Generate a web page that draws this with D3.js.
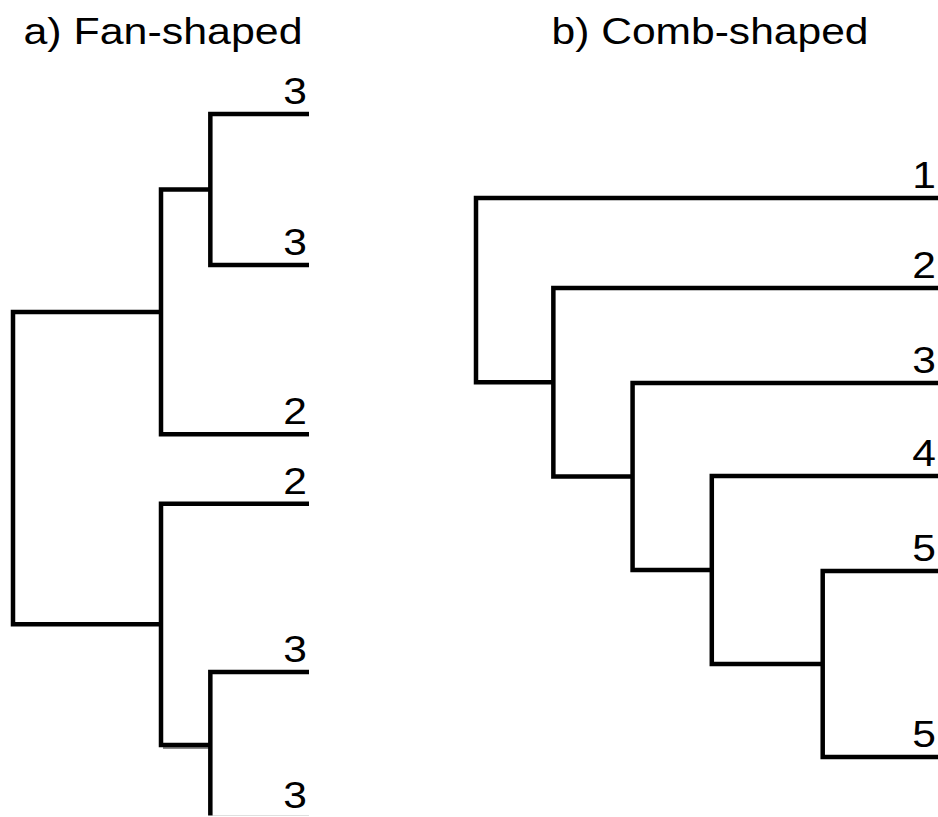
<!DOCTYPE html>
<html>
<head>
<meta charset="utf-8">
<script src="https://cdn.jsdelivr.net/npm/d3@7"></script>
<style>
  html, body { margin: 0; padding: 0; background: #fff; overflow: hidden; }
  svg { display: block; }
  text { font-family: "Liberation Sans", Arial, Helvetica, sans-serif; fill: #000; }
</style>
</head>
<body>
<svg id="chart" width="938" height="817"></svg>
<script>
// ---------- DATA ----------
// Panel titles
const panelTitles = ["a) Fan-shaped", "b) Comb-shaped"];

// Fan-shaped tree: leaf labels, leaf ordinates (vertical order units), merges [childA, childB, height]
const fanLabels = ["3", "3", "2", "2", "3", "3"];
const fanLeafPos = [0, 1.50, 3.18, 3.87, 5.54, 6.99];
const fanMerges = [
  [0, 1, 1.0],   // node 6
  [4, 5, 1.0],   // node 7
  [6, 2, 1.5],   // node 8
  [3, 7, 1.5],   // node 9
  [8, 9, 3.0]    // node 10 (root)
];

// Comb-shaped tree
const combLabels = ["1", "2", "3", "4", "5", "5"];
const combLeafPos = [0, 0.90, 1.85, 2.78, 3.73, 5.59];
const combMerges = [
  [4, 5, 1.28],  // node 6
  [3, 6, 2.47],  // node 7
  [2, 7, 3.32],  // node 8
  [1, 8, 4.17],  // node 9
  [0, 9, 5.0]    // node 10 (root)
];

// ---------- DRAW ----------
const svg = d3.select("#chart");

// the reference figure is cropped at its lower edge
svg.append("defs").append("clipPath").attr("id", "crop")
  .append("rect").attr("x", 0).attr("y", 0).attr("width", 938).attr("height", 815.5);

function drawDendrogram(cfg) {
  const { labels, leafPos, merges, xRange, yRange, yDomain, labelX, title, titleX, titleLen, shadowNodes } = cfg;
  const maxH = d3.max(merges, d => d[2]);
  const x = d3.scaleLinear().domain([maxH, 0]).range(xRange);
  const y = d3.scaleLinear().domain(yDomain).range(yRange);

  // build nodes
  const nodes = labels.map((lab, i) => ({ id: i, label: lab, h: 0, pos: leafPos[i], leaf: true }));
  merges.forEach(([a, b, h]) => {
    nodes.push({ id: nodes.length, h, pos: (nodes[a].pos + nodes[b].pos) / 2, children: [nodes[a], nodes[b]], leaf: false });
  });

  const g = svg.append("g").attr("clip-path", "url(#crop)");
  const internal = nodes.filter(n => !n.leaf);

  // faint grey shadow under selected lower connectors (as in the reference scan)
  g.selectAll("path.shadow")
    .data(internal.filter(n => (shadowNodes || []).includes(n.id)))
    .join("path")
    .attr("class", "shadow")
    .attr("fill", "none")
    .attr("stroke", "#8a8a8a")
    .attr("stroke-width", 2)
    .attr("d", n => {
      const c2 = n.children[1];
      const p = d3.path();
      p.moveTo(x(n.h) + 2, y(c2.pos) + 3);
      p.lineTo(x(c2.h), y(c2.pos) + 3);
      return p.toString();
    });

  g.selectAll("path.link")
    .data(internal)
    .join("path")
    .attr("class", "link")
    .attr("fill", "none")
    .attr("stroke", "#000")
    .attr("stroke-width", 4.5)
    .attr("stroke-linejoin", "miter")
    .attr("d", n => {
      const [c1, c2] = n.children;
      const p = d3.path();
      p.moveTo(x(c1.h), y(c1.pos));
      p.lineTo(x(n.h), y(c1.pos));
      p.lineTo(x(n.h), y(c2.pos));
      p.lineTo(x(c2.h), y(c2.pos));
      return p.toString();
    });

  svg.append("g").selectAll("text.leaf")
    .data(nodes.filter(n => n.leaf))
    .join("text")
    .attr("class", "leaf")
    .attr("transform", n => `translate(${labelX},${y(n.pos) - 10}) scale(1.15,1)`)
    .attr("text-anchor", "end")
    .attr("font-size", 37)
    .text(n => n.label);

  svg.append("text")
    .attr("x", titleX)
    .attr("y", 44)
    .attr("text-anchor", "middle")
    .attr("font-size", 37)
    .attr("textLength", titleLen)
    .attr("lengthAdjust", "spacingAndGlyphs")
    .text(title);
}

drawDendrogram({
  labels: fanLabels, leafPos: fanLeafPos, merges: fanMerges,
  xRange: [13, 309], yDomain: [0, 7], yRange: [114, 819],
  labelX: 307, title: panelTitles[0], titleX: 163, titleLen: 279, shadowNodes: [9]
});

drawDendrogram({
  labels: combLabels, leafPos: combLeafPos, merges: combMerges,
  xRange: [476, 942], yDomain: [0, 5.59], yRange: [198, 757],
  labelX: 936, title: panelTitles[1], titleX: 710, titleLen: 317, shadowNodes: []
});
</script>
</body>
</html>
